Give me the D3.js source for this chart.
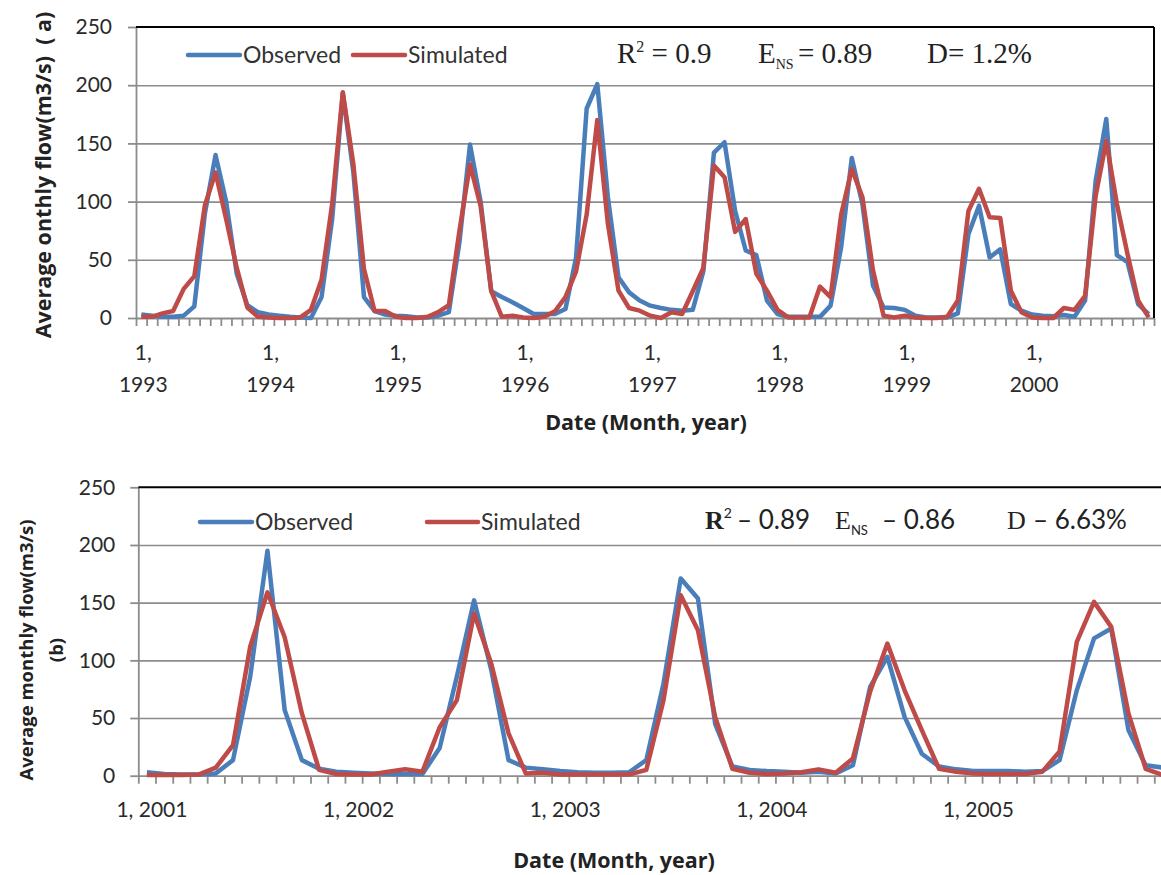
<!DOCTYPE html>
<html>
<head>
<meta charset="utf-8">
<script src="https://cdn.jsdelivr.net/npm/d3@7"></script>
<style>
  body { margin: 0; background: #fff; }
  svg { display: block; font-family: Lato, "Open Sans", sans-serif; }
</style>
</head>
<body>
<script>
'use strict';

// years on each panel, one category per month
const yearsA = [1993, 1994, 1995, 1996, 1997, 1998, 1999, 2000];
const yearsB = [2001, 2002, 2003, 2004, 2005];
const yTicks = [0, 50, 100, 150, 200, 250];

// panel (a) 1993-2000, monthly flow m3/s
const observedA = [
  3, 2, 1, 1, 2, 10, 90, 140, 100, 38, 11, 5,
  3, 2, 1, 0.5, 0, 18, 85, 193, 125, 18, 6, 3,
  2, 1.5, 0.5, 0.5, 2, 5, 65, 149, 100, 23, 18, 13.5,
  8.6, 3.4, 3.4, 3.4, 7.7, 52, 180, 201, 104, 35, 22, 15,
  10.6, 8.6, 7, 6.3, 7, 40, 142, 151, 92, 58, 54, 15,
  3.4, 1, 1, 1, 1, 10.6, 61, 137.5, 98, 28, 9, 8.6,
  7, 2, 0.5, 0.5, 0.5, 4, 72, 96.5, 52, 59, 12, 6.3,
  3, 2, 1.5, 2.6, 1, 15, 118, 171, 54, 48, 12, 3.4
];
const simulatedA = [
  1, 1, 4, 6, 25, 36, 97, 125, 85, 43, 9, 1,
  0.5, 0, 0, 0.5, 7, 33, 98, 194, 132, 42, 6, 6,
  1, 0, 0, 1, 5, 11, 75, 132, 96, 23, 1, 2,
  0.5, 0, 1, 5.7, 18, 40, 89, 170, 81, 23.5, 8.6, 6.3,
  2, 0, 5, 3.4, 23, 43, 131, 121, 74, 85, 38, 23.5,
  7, 0.5, 0.5, 0.5, 27, 18, 89, 128, 104, 41, 2, 0.5,
  2, 0.5, 0, 0, 1, 15, 92, 111, 86.5, 86, 23.5, 5,
  0.5, 0, 0, 8.6, 7, 19, 105, 152, 98, 55, 15, 0.5
];

// panel (b) 2001-2005
const observedB = [
  3, 1.5, 1, 1, 2, 13.5, 86, 195, 57, 13.5, 6, 3.5,
  2.6, 2, 1.5, 1.5, 1.5, 24, 86, 152, 91.5, 13.5, 7, 5.5,
  4, 3, 2.6, 2.6, 3, 13.5, 80, 171, 153.6, 45, 8, 5,
  4, 3.5, 2.6, 3.5, 2, 9, 77, 103, 51, 19, 8, 5.5,
  4, 4, 4, 3.5, 4, 13.5, 74, 119, 127.6, 39.5, 9, 7
];
const simulatedB = [
  0.5, 0.5, 0.5, 1, 7, 26.5, 112, 159, 120, 54, 5, 1.5,
  1, 1, 3.5, 5.5, 3.5, 42, 65.5, 140.6, 97, 36.7, 2, 2.6,
  1, 1, 1, 1, 1, 5, 65.5, 156.5, 126, 51, 6, 2.6,
  1.5, 2, 3, 5.5, 2.6, 15, 73, 114.6, 74, 39.5, 6, 3.5,
  2, 1.5, 1.5, 1.5, 3.5, 21, 116, 150.7, 129, 54, 6, 0.5
];

const BLUE = '#4a7ebb';
const RED = '#be4b48';
const GRID = '#8c8c8c';
const SERIF = '"Liberation Serif", "Times New Roman", serif';
const BOLD_SANS = '"Open Sans", sans-serif';

const svg = d3.select('body').append('svg')
  .attr('width', 1161)
  .attr('height', 875);

const panels = [
  {
    years: yearsA, obs: observedA, sim: simulatedA,
    left: 136, right: 1154, top: 27, bottom: 318, rightBorder: true,
    labelPad: 16, twoLineLabels: true,
    legendY: 55, obsLine: [188, 240], simLine: [353, 405],
    yTitle: ['Average onthly flow(m3/s)  ( a)'], yTitleX: [43], yTitleY: 175, yTitleSize: 21.5,
    xTitleX: 646, xTitleY: 430
  },
  {
    years: yearsB, obs: observedB, sim: simulatedB,
    left: 138.3, right: 1171.5, top: 487.3, bottom: 775.7, rightBorder: false,
    labelPad: 15, twoLineLabels: false,
    legendY: 522, obsLine: [200, 252], simLine: [427, 478],
    yTitle: ['Average monthly flow(m3/s)', '(b)'], yTitleX: [27, 57], yTitleY: 650, yTitleSize: 18.5,
    xTitleX: 614, xTitleY: 868
  }
];

panels.forEach(drawPanel);
drawStatsA();
drawStatsB();

function drawPanel(p) {
  const n = p.obs.length;
  const x = d3.scaleLinear().domain([0, n]).range([p.left, p.right]);
  const y = d3.scaleLinear().domain([0, 250]).range([p.bottom, p.top]);
  const g = svg.append('g');

  // horizontal gridlines
  g.append('g')
    .attr('transform', `translate(${p.left},0)`)
    .call(d3.axisLeft(y).tickValues(yTicks.slice(1, -1)).tickSize(-(p.right - p.left)).tickFormat(''))
    .call(s => s.select('.domain').remove())
    .selectAll('line').attr('stroke', GRID).attr('stroke-width', 1.6);

  // y axis
  const ya = g.append('g')
    .attr('transform', `translate(${p.left},0)`)
    .call(d3.axisLeft(y).tickValues(yTicks).tickSize(8).tickSizeOuter(0).tickPadding(p.labelPad));
  ya.selectAll('line, path').attr('stroke', GRID).attr('stroke-width', 1.8);
  ya.selectAll('text')
    .style('font-family', 'Lato, sans-serif')
    .attr('font-size', 21)
    .attr('fill', '#2a2a2a');

  // x axis, ticks between months
  const xa = g.append('g')
    .attr('transform', `translate(0,${p.bottom})`)
    .call(d3.axisBottom(x).tickValues(d3.range(n + 1)).tickSize(8).tickSizeOuter(0).tickFormat(''));
  xa.selectAll('line, path').attr('stroke', GRID).attr('stroke-width', 1.8);

  // category labels on first month of each year
  p.years.forEach((yr, k) => {
    const cx = x(k * 12 + 0.5);
    if (p.twoLineLabels) {
      g.append('text').attr('x', cx + 2).attr('y', p.bottom + 42)
        .attr('text-anchor', 'middle').attr('font-size', 21).attr('fill', '#2a2a2a')
        .text('1,');
      g.append('text').attr('x', cx + 2).attr('y', p.bottom + 74)
        .attr('text-anchor', 'middle').attr('font-size', 21).attr('fill', '#2a2a2a')
        .text(yr);
    } else {
      g.append('text').attr('x', cx + 5).attr('y', p.bottom + 41)
        .attr('text-anchor', 'middle').attr('font-size', 21).attr('fill', '#2a2a2a')
        .text('1, ' + yr);
    }
  });

  // series lines
  const line = d3.line()
    .x((d, i) => x(i + 0.5))
    .y(d => y(d));
  [[p.obs, BLUE], [p.sim, RED]].forEach(([vals, col]) => {
    g.append('path')
      .datum(vals)
      .attr('fill', 'none')
      .attr('stroke', col)
      .attr('stroke-width', 4.5)
      .attr('stroke-linejoin', 'round')
      .attr('d', line);
  });

  // plot frame: black top (and right) border
  g.append('line')
    .attr('x1', x(0)).attr('x2', x(n))
    .attr('y1', y(250)).attr('y2', y(250))
    .attr('stroke', '#000').attr('stroke-width', 2);
  if (p.rightBorder) {
    g.append('line')
      .attr('x1', x(n)).attr('x2', x(n))
      .attr('y1', y(250)).attr('y2', y(0))
      .attr('stroke', '#000').attr('stroke-width', 2);
  }

  // legend
  [[p.obsLine, BLUE, 'Observed'], [p.simLine, RED, 'Simulated']].forEach(([pos, col, label]) => {
    g.append('line')
      .attr('x1', pos[0]).attr('x2', pos[1])
      .attr('y1', p.legendY).attr('y2', p.legendY)
      .attr('stroke', col).attr('stroke-width', 4.5).attr('stroke-linecap', 'round');
    g.append('text')
      .attr('x', pos[1] + 3).attr('y', p.legendY + 8)
      .attr('font-size', 23).attr('fill', '#333')
      .text(label);
  });

  // axis titles
  p.yTitle.forEach((t, k) => {
    g.append('text')
      .attr('transform', `translate(${p.yTitleX[k]},${p.yTitleY})rotate(-90)`)
      .attr('dy', '0.35em')
      .attr('text-anchor', 'middle')
      .style('font-family', BOLD_SANS)
      .attr('font-weight', 'bold')
      .attr('font-size', p.yTitleSize)
      .attr('fill', '#222')
      .style('white-space', 'pre')
      .text(t);
  });
  g.append('text')
    .attr('x', p.xTitleX).attr('y', p.xTitleY)
    .attr('text-anchor', 'middle')
    .style('font-family', BOLD_SANS)
    .attr('font-weight', 'bold')
    .attr('font-size', 21.5)
    .attr('fill', '#222')
    .text('Date (Month, year)');
}

// fit statistics, panel (a) - serif as in the original figure
function drawStatsA() {
  const t = svg.append('g')
    .style('font-family', SERIF)
    .attr('font-size', 29)
    .attr('fill', '#222');
  const r = t.append('text').attr('x', 617).attr('y', 63);
  r.append('tspan').text('R');
  r.append('tspan').attr('font-size', 16).attr('dy', -11).text('2');
  r.append('tspan').attr('dy', 11).text(' = 0.9');
  const e = t.append('text').attr('x', 758).attr('y', 63);
  e.append('tspan').text('E');
  e.append('tspan').attr('font-size', 14).attr('dy', 6).text('NS');
  t.append('text').attr('x', 798).attr('y', 63).text('= 0.89');
  t.append('text').attr('x', 927).attr('y', 63).text('D= 1.2%');
}

// fit statistics, panel (b)
function drawStatsB() {
  const t = svg.append('g').attr('fill', '#222');
  const r = t.append('text').attr('x', 705).attr('y', 529);
  r.append('tspan').style('font-family', SERIF).attr('font-weight', 'bold').attr('font-size', 26).text('R');
  r.append('tspan').attr('font-size', 14).attr('dy', -11).text('2');
  r.append('tspan').attr('font-size', 26).attr('dy', 11).attr('x', 737).text('– 0.89');
  const e = t.append('text').attr('x', 835).attr('y', 529);
  e.append('tspan').style('font-family', SERIF).attr('font-size', 26).text('E');
  e.append('tspan').attr('font-size', 13).attr('dy', 6).text('NS');
  e.append('tspan').attr('font-size', 26).attr('dy', -6).attr('x', 882).text('– 0.86');
  const d = t.append('text').attr('x', 1007).attr('y', 529);
  d.append('tspan').style('font-family', SERIF).attr('font-size', 26).text('D');
  d.append('tspan').attr('font-size', 26).attr('x', 1033).text('– 6.63%');
}
</script>
</body>
</html>
